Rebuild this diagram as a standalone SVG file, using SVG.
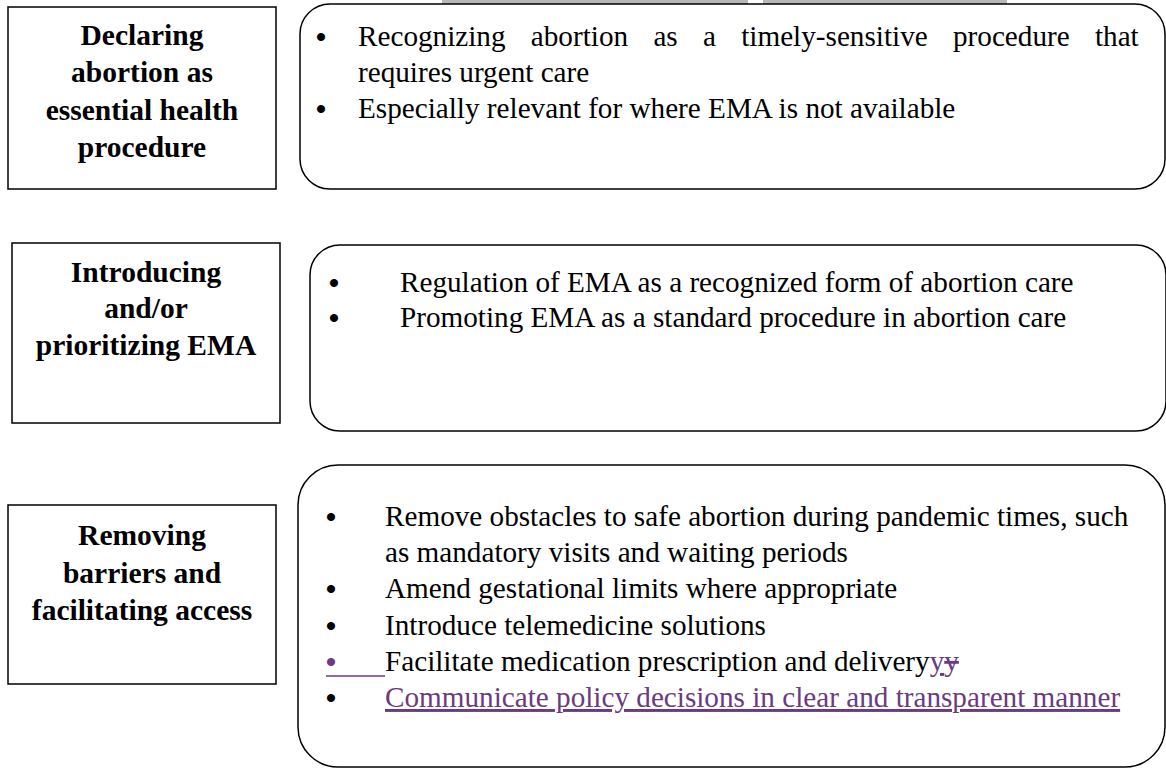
<svg xmlns="http://www.w3.org/2000/svg" width="1166" height="768" viewBox="0 0 1166 768">
<style>
.box{fill:#fff;stroke:#000;stroke-width:1.5}
.rbox{fill:#fff;stroke:#000;stroke-width:1.5}
.lbl{font-family:"Liberation Serif","Times New Roman",serif;font-weight:bold;font-size:29.5px;fill:#000;text-anchor:middle}
.txt{font-family:"Liberation Serif","Times New Roman",serif;font-size:29.2px;fill:#000}
.bul{font-family:"Liberation Serif","Times New Roman",serif;font-size:30px;font-weight:bold;fill:#000;text-anchor:middle}
.pur{fill:#6b3b7f}
</style>
<rect width="1166" height="768" fill="#fff"/>
<rect x="442" y="0" width="306" height="4" fill="#b8b8b8"/>
<rect x="763" y="0" width="244" height="4" fill="#b8b8b8"/>
<g id="connectors"></g>
<g id="node1">
<rect class="box" x="8" y="7" width="268" height="182"/>
<text class="lbl"><tspan x="142" y="45">Declaring</tspan><tspan x="142" y="82">abortion as</tspan><tspan x="142" y="120">essential health</tspan><tspan x="142" y="157">procedure</tspan></text>
</g>
<g id="node1-details">
<rect class="rbox" x="300" y="4" width="865" height="185" rx="30" ry="30"/>
<text class="bul" x="321" y="47">•</text>
<text class="bul" x="321" y="119">•</text>
<text class="txt"><tspan x="358" y="46" word-spacing="18">Recognizing abortion as a timely-sensitive procedure that</tspan><tspan x="358" y="82">requires urgent care</tspan><tspan x="358" y="118">Especially relevant for where EMA is not available</tspan></text>
</g>
<g id="node2">
<rect class="box" x="12" y="243" width="268" height="180"/>
<text class="lbl"><tspan x="146" y="282">Introducing</tspan><tspan x="146" y="318">and/or</tspan><tspan x="146" y="355">prioritizing EMA</tspan></text>
</g>
<g id="node2-details">
<rect class="rbox" x="310" y="245" width="856" height="186" rx="30" ry="30"/>
<text class="bul" x="334" y="293">•</text>
<text class="bul" x="334" y="328">•</text>
<text class="txt"><tspan x="400" y="292">Regulation of EMA as a recognized form of abortion care</tspan><tspan x="400" y="327">Promoting EMA as a standard procedure in abortion care</tspan></text>
</g>
<g id="node3">
<rect class="box" x="8" y="505" width="268" height="179"/>
<text class="lbl"><tspan x="142" y="545">Removing</tspan><tspan x="142" y="583">barriers and</tspan><tspan x="142" y="620">facilitating access</tspan></text>
</g>
<g id="node3-details">
<rect class="rbox" x="298" y="465" width="867" height="302" rx="40" ry="40"/>
<text class="bul" x="331" y="527">•</text>
<text class="bul" x="331" y="599">•</text>
<text class="bul" x="331" y="636">•</text>
<text class="bul pur" x="331" y="672">•</text>
<text class="bul" x="331" y="708">•</text>
<text class="txt"><tspan x="385" y="526">Remove obstacles to safe abortion during pandemic times, such</tspan><tspan x="385" y="562">as mandatory visits and waiting periods</tspan><tspan x="385" y="598">Amend gestational limits where appropriate</tspan><tspan x="385" y="635">Introduce telemedicine solutions</tspan><tspan x="385" y="671">Facilitate medication prescription and delivery</tspan><tspan class="pur" text-decoration="underline">y</tspan><tspan class="pur" text-decoration="line-through">y</tspan><tspan x="385" y="707" class="pur" text-decoration="underline">Communicate policy decisions in clear and transparent manner</tspan></text>
<line x1="326" y1="676" x2="385" y2="676" stroke="#6b3b7f" stroke-width="1.5"/>
</g>
</svg>
